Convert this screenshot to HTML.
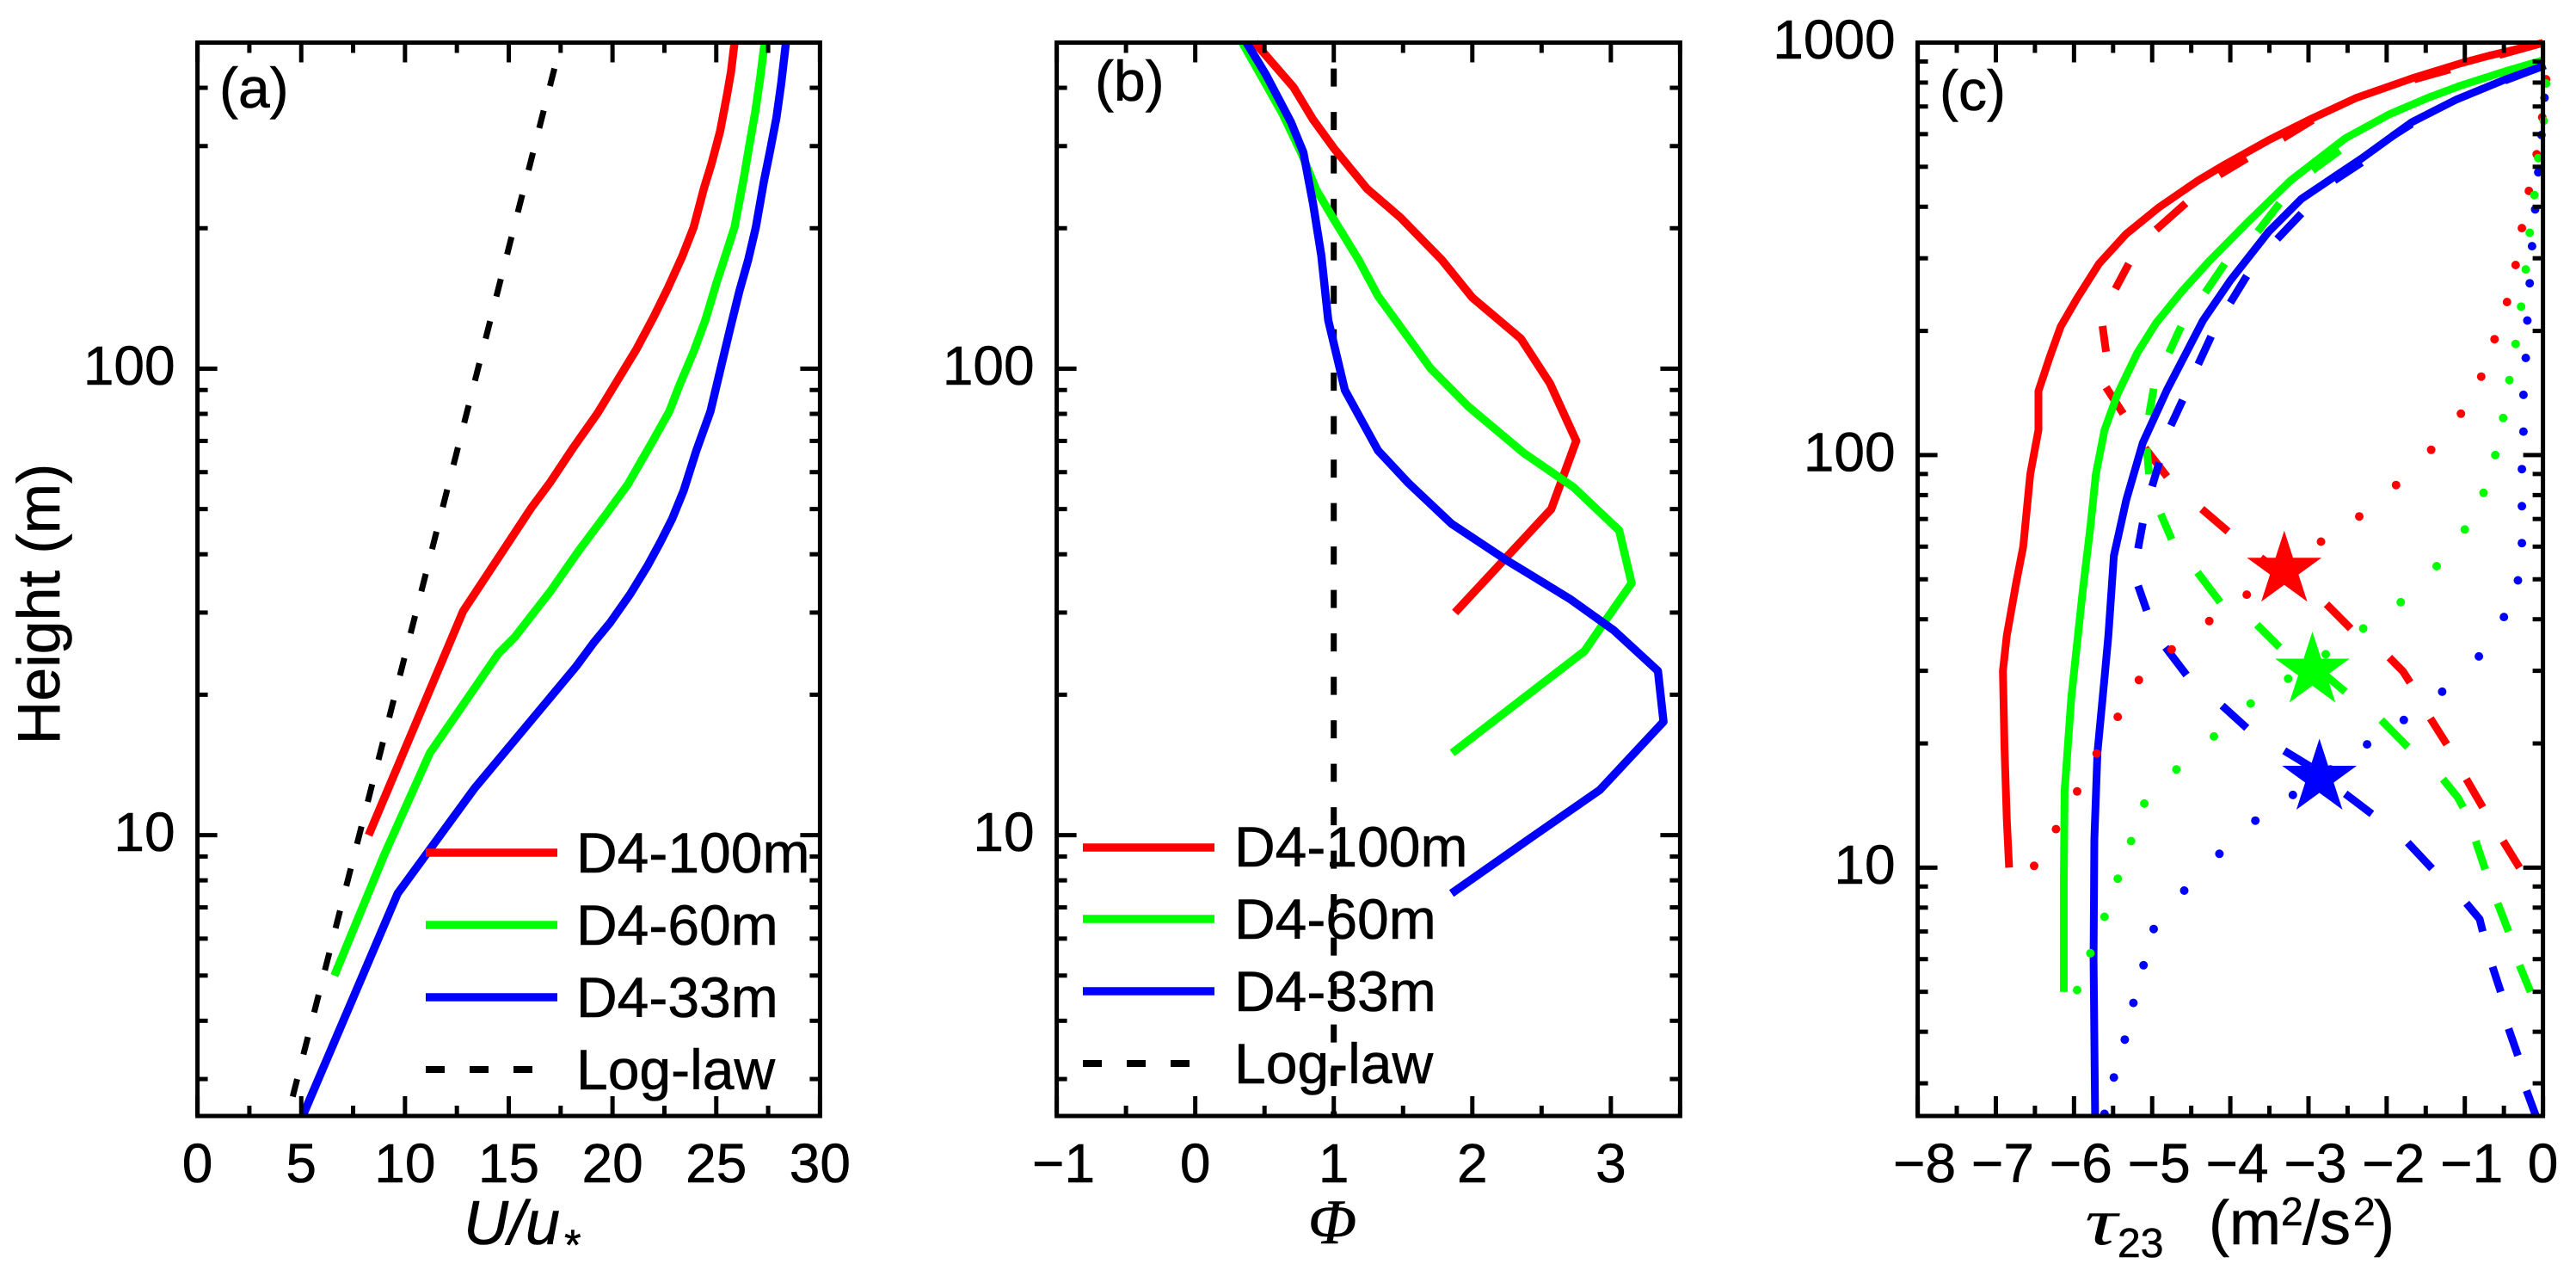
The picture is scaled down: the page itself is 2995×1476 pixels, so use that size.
<!DOCTYPE html>
<html lang="en">
<head>
<meta charset="utf-8">
<title>Height profiles</title>
<style>
html,body{margin:0;padding:0;background:#fff;}
svg{display:block;}
text{font-family:"Liberation Sans",sans-serif;fill:#000;stroke:#000;stroke-width:0.6px;}
.lg{font-size:66px;}
.pl{font-size:66px;}
</style>
</head>
<body>
<svg id="fig" xmlns="http://www.w3.org/2000/svg" width="2995" height="1476" viewBox="0 0 2995 1476">
<rect width="2995" height="1476" fill="#fff"/>
<g id="marks"></g>
<g id="frames"></g>

<text transform="translate(69,702) rotate(-90)" text-anchor="middle" font-size="70">Height (m)</text>

<text class="pl" x="255" y="125">(a)</text>
<text class="pl" x="1273" y="117">(b)</text>
<text class="pl" x="2255" y="128">(c)</text>

<g>
<text x="539" y="1446" font-size="72" font-style="italic">U/u</text>
<text x="654" y="1464" font-size="50" font-style="italic">*</text>
</g>
<text x="1549" y="1445" font-size="74" text-anchor="middle" font-style="italic" style="font-family:'Liberation Serif',serif">Φ</text>
<g>
<text transform="translate(2424,1446) scale(1.35,1)" font-size="78" font-style="italic" style="font-family:'Liberation Serif',serif;stroke-width:0">τ</text>
<text x="2462" y="1461" font-size="48">23</text>
<text x="2568" y="1446" font-size="72">(m</text>
<text x="2652" y="1424" font-size="46">2</text>
<text x="2677" y="1446" font-size="72">/s</text>
<text x="2736" y="1424" font-size="46">2</text>
<text x="2760" y="1446" font-size="72">)</text>
</g>

<g>
<line x1="495" x2="648" y1="991" y2="991" stroke="#f00" stroke-width="9.5"/>
<text class="lg" x="670" y="1014">D4-100m</text>
<line x1="495" x2="648" y1="1075" y2="1075" stroke="#0f0" stroke-width="9.5"/>
<text class="lg" x="670" y="1098">D4-60m</text>
<line x1="495" x2="648" y1="1159" y2="1159" stroke="#00f" stroke-width="9.5"/>
<text class="lg" x="670" y="1182">D4-33m</text>
<line x1="495" x2="619" y1="1243" y2="1243" stroke="#000" stroke-width="8" stroke-dasharray="22 29"/>
<text class="lg" x="670" y="1266">Log-law</text>
</g>

<g>
<line x1="1259" x2="1412" y1="985" y2="985" stroke="#f00" stroke-width="9.5"/>
<text class="lg" x="1435" y="1007">D4-100m</text>
<line x1="1259" x2="1412" y1="1068" y2="1068" stroke="#0f0" stroke-width="9.5"/>
<text class="lg" x="1435" y="1091">D4-60m</text>
<line x1="1259" x2="1412" y1="1152" y2="1152" stroke="#00f" stroke-width="9.5"/>
<text class="lg" x="1435" y="1175">D4-33m</text>
<line x1="1259" x2="1383" y1="1236" y2="1236" stroke="#000" stroke-width="8" stroke-dasharray="22 29"/>
<text class="lg" x="1435" y="1259">Log-law</text>
</g>
</svg>

<script>
// ---------- tick data ----------
const aXMajor = [0, 5, 10, 15, 20, 25, 30];
const aXMinor = [2.5, 7.5, 12.5, 17.5, 22.5, 27.5];
const bXMajor = [-1, 0, 1, 2, 3];
const bXMinor = [-0.5, 0.5, 1.5, 2.5, 3.5];
const cXMajor = [-8, -7, -6, -5, -4, -3, -2, -1, 0];
const cXMinor = [-7.5, -6.5, -5.5, -4.5, -3.5, -2.5, -1.5, -0.5];
const abYMajor = [10, 100];
const abYMinor = [3, 4, 5, 6, 7, 8, 9, 20, 30, 40, 50, 60, 70, 80, 90, 200, 300, 400];
const cYMajor = [10, 100, 1000];
const cYMinor = [3, 4, 5, 6, 7, 8, 9, 20, 30, 40, 50, 60, 70, 80, 90, 200, 300, 400, 500, 600, 700, 800, 900];

// ---------- panel (a): U/u* ----------
const aRedU = [8.25, 12.8, 16.1, 17.0, 18.11, 19.29, 21.15, 21.98, 22.67, 23.36, 23.91, 24.4, 24.77, 25.18, 25.5, 25.71, 25.88];
const aRedZ = [10, 30.2, 50.4, 57.1, 67.7, 80.4, 110, 129, 149, 174, 201, 243, 275, 322, 382, 433, 500];
const aGreenU = [6.6, 9.0, 11.2, 14.5, 15.3, 17.0, 18.37, 19.62, 20.74, 21.84, 22.74, 23.22, 23.92, 24.47, 25.02, 25.43, 25.88, 26.33, 26.61, 26.88, 27.12, 27.33];
const aGreenZ = [5, 9.07, 15, 24.5, 26.6, 33.3, 40.7, 48.3, 56.5, 68.7, 81, 92, 109, 127, 153, 174, 201, 257, 304, 355, 421, 500];
const aBlueU = [5.07, 9.65, 13.35, 18.25, 19.08, 19.9, 20.86, 21.69, 22.31, 22.88, 23.43, 24.05, 24.72, 25.3, 25.71, 26.12, 26.54, 26.91, 27.3, 27.58, 27.9, 28.13, 28.36];
const aBlueZ = [2.5, 7.5, 12.6, 23, 25.8, 28.6, 32.9, 37.8, 42.5, 47.7, 54.8, 66.9, 81, 104, 124, 147, 171, 201, 253, 291, 345, 409, 500];
const aLogU = [17.2, 4.35];
const aLogZ = [440, 2.5];

// ---------- panel (b): Phi ----------
const bRedPhi = [0.43, 0.71, 0.85, 1.0, 1.24, 1.48, 1.78, 2.0, 2.35, 2.56, 2.75, 2.57, 2.39, 1.875];
const bRedZ = [500, 401, 342, 297, 243, 211, 171, 142, 116, 93, 70, 50, 43.8, 30];
const bGreenPhi = [0.34, 0.49, 0.63, 0.77, 0.87, 1.0, 1.18, 1.32, 1.70, 1.97, 2.37, 2.73, 3.06, 3.15, 2.96, 2.81, 1.855];
const bGreenZ = [500, 417, 352, 288, 243, 209, 171, 143, 100, 83, 66, 55.7, 45, 34.7, 28.8, 24.8, 15];
const bBluePhi = [0.37, 0.51, 0.69, 0.78, 0.85, 0.91, 0.96, 1.08, 1.32, 1.54, 1.85, 2.25, 2.71, 3.02, 3.34, 3.38, 2.92, 2.45, 1.85];
const bBlueZ = [500, 427, 338, 291, 226, 175, 127, 90, 66.7, 56.8, 46.5, 38.8, 32, 27.5, 22.5, 17.5, 12.5, 10, 7.5];
const bLogPhi = [1, 1];
const bLogZ = [440, 2.5];

// ---------- panel (c): tau23 ----------
const cRedTau = [0, -0.667, -1.05, -1.65, -2.385, -2.947, -3.51, -4.07, -4.42, -4.91, -5.33, -5.68, -5.96, -6.17, -6.31, -6.455, -6.455, -6.56, -6.65, -6.74, -6.86, -6.91, -6.89, -6.86, -6.83];
const cRedZ = [998, 932, 891, 822, 735, 656, 580, 506, 462, 399, 344, 291, 240, 205, 173, 143, 115, 90, 60, 49, 36.5, 30, 19.7, 13.1, 10];
const cGreenTau = [0, -0.49, -1.05, -1.47, -1.96, -2.53, -3.23, -3.79, -4.28, -4.63, -4.95, -5.19, -5.44, -5.61, -5.72, -5.79, -5.89, -5.95, -6.035, -6.12, -6.13, -6.13];
const cGreenZ = [906, 851, 787, 735, 671, 586, 463, 365, 294, 248, 209, 177, 141, 115, 90, 67, 46.5, 36.5, 25.8, 15.3, 9.3, 5];
const cBlueTau = [0.03, -0.49, -1.12, -1.68, -2.32, -2.67, -3.09, -3.51, -4.0, -4.35, -4.81, -5.12, -5.33, -5.49, -5.56, -5.61, -5.70, -5.74, -5.75, -5.73];
const cBlueZ = [881, 813, 726, 641, 524, 473, 418, 348, 265, 212, 144, 107, 78, 57, 36.5, 28.8, 19, 11.7, 6, 2.5];

// dashed series: null marks the gap between dashes
const cRedDashTau = [0, -0.56, null, -1.19, -1.65, null, -2.947, -3.33, null, -3.79, -4.14, null, -4.57, -4.95, null, -5.30, -5.47, null, -5.635, -5.59, null, -5.59, -5.37, null, -5.09, -4.81, null, -4.365, -4.03, null, -3.61, -3.23, null, -2.77, -2.46, null, -1.965, -1.79, -1.70, null, -1.44, -1.23, null, -0.98, -0.77, null, -0.51, -0.30];
const cRedDashZ = [998, 933, null, 861, 814, null, 649, 586, null, 524, 478, null, 408, 352, null, 291, 253, null, 205.6, 178, null, 146, 126, null, 104, 88.7, null, 74, 65.3, null, 56.4, 49.8, null, 43.5, 38, null, 32.3, 29.9, 28.1, null, 23, 19.9, null, 16.4, 14, null, 11.6, 10];
const cGreenDashTau = [0, -0.49, null, -2.6, -2.95, null, -3.37, -3.65, null, -4.07, -4.32, null, -4.63, -4.785, null, -4.98, -5.04, null, -5.07, -5.04, null, -4.89, -4.75, null, -4.42, -4.13, null, -3.66, -3.37, null, -2.84, -2.53, null, -2.07, -1.73, null, -1.28, -1.09, -1.02, null, -0.86, -0.74, null, -0.58, -0.44, null, -0.30, -0.16];
const cGreenDashZ = [906, 845, null, 548, 490, null, 408, 348, null, 291, 248, null, 205, 177, null, 145, 125, null, 104, 90, null, 72, 62.5, null, 52, 44, null, 38.8, 34.2, null, 29.9, 26.7, null, 22.8, 19.6, null, 16.4, 14.8, 14, null, 11.6, 9.9, null, 8.2, 7, null, 5.8, 5];
const cBlueDashTau = [0.03, -0.49, null, -1.68, -1.93, null, -2.32, -2.67, null, -3.09, -3.40, null, -3.79, -4.0, null, -4.245, -4.41, null, -4.61, -4.76, null, -4.91, -5.0, null, -5.12, -5.18, null, -5.18, -5.07, null, -4.83, -4.56, null, -4.105, -3.79, null, -3.31, -2.98, null, -2.53, -2.19, null, -1.73, -1.42, null, -0.98, -0.81, -0.77, null, -0.645, -0.54, null, -0.44, -0.32, null, -0.21, -0.09];
const cBlueDashZ = [881, 809, null, 635, 593, null, 512, 463, null, 385, 334, null, 272, 234, null, 194, 166, null, 136, 118, null, 96, 84, null, 68.4, 59.4, null, 48.2, 42, null, 34.2, 29.3, null, 24.7, 21.8, null, 19.2, 17.6, null, 15.1, 13.5, null, 11.5, 9.95, null, 8.2, 7.5, 7, null, 5.75, 5, null, 4.07, 3.5, null, 2.88, 2.5];

const cRedDotTau = [0.04, -0.01, -0.08, -0.18, -0.27, -0.35, -0.46, -0.62, -0.79, -1.05, -1.43, -1.88, -2.35, -2.84, -3.31, -3.79, -4.27, -4.75, -5.17, -5.44, -5.71, -5.96, -6.23, -6.51];
const cRedDotZ = [815, 659, 536, 437, 355, 289, 235, 191, 155, 126, 103, 84.6, 71, 61.7, 53, 45.9, 39.6, 33.8, 28.5, 23.2, 18.9, 15.3, 12.4, 10.1];
const cGreenDotTau = [0.04, 0.01, -0.06, -0.11, -0.17, -0.22, -0.28, -0.35, -0.43, -0.51, -0.61, -0.76, -1.0, -1.36, -1.82, -2.30, -2.78, -3.26, -3.74, -4.21, -4.69, -5.10, -5.27, -5.44, -5.61, -5.79, -5.96];
const cGreenDotZ = [796, 646, 525, 427, 346, 282, 229, 186, 152, 123, 100, 81, 66, 53.8, 44, 38, 32.9, 28.7, 25, 20.8, 17.3, 14.3, 11.6, 9.4, 7.6, 6.2, 5.05];
const cBlueDotTau = [0.02, -0.02, -0.06, -0.10, -0.14, -0.17, -0.20, -0.22, -0.25, -0.25, -0.27, -0.27, -0.27, -0.32, -0.50, -0.82, -1.29, -1.78, -2.25, -2.72, -3.2, -3.68, -4.14, -4.59, -4.98, -5.11, -5.24, -5.35, -5.49, -5.61];
const cBlueDotZ = [735, 597, 485, 394, 321, 261, 212, 172, 140, 114, 92.5, 75.2, 61.2, 49.7, 40.5, 32.5, 26.7, 22.8, 19.9, 17.3, 15, 13, 10.8, 8.8, 7.1, 5.8, 4.7, 3.83, 3.1, 2.53];

const starTau = [-3.31, -2.95, -2.86];
const starZ = [52.7, 30, 16.5];

// ---------- drawing ----------
const NS = 'http://www.w3.org/2000/svg';
const marks = document.getElementById('marks');
const frames = document.getElementById('frames');

function axisX(min, max, left, right) {
  return v => left + (v - min) / (max - min) * (right - left);
}
function axisY(min, max, top, bottom) {
  return v => bottom - (Math.log10(v) - Math.log10(min)) / (Math.log10(max) - Math.log10(min)) * (bottom - top);
}
function svgEl(tag, parent) {
  const el = document.createElementNS(NS, tag);
  parent.appendChild(el);
  return el;
}
function drawLine(name, xs, ys, sx, sy, color, width, dash) {
  let d = '', pen = false;
  xs.forEach((x, i) => {
    if (x === null) { pen = false; return; }
    d += (pen ? 'L' : 'M') + sx(x).toFixed(1) + ' ' + sy(ys[i]).toFixed(1) + ' ';
    pen = true;
  });
  const el = svgEl('path', marks);
  
  
  el.setAttribute('d', d);
  el.setAttribute('fill', 'none');
  el.setAttribute('stroke', color);
  el.setAttribute('stroke-width', width);
  el.setAttribute('stroke-linejoin', 'round');
  if (dash) el.setAttribute('stroke-dasharray', dash);
}
function drawDots(name, xs, ys, sx, sy, color) {
  const g = svgEl('g', marks);
  
  
  xs.forEach((x, i) => {
    const c = svgEl('circle', g);
    
    
    c.setAttribute('cx', sx(x).toFixed(1));
    c.setAttribute('cy', sy(ys[i]).toFixed(1));
    c.setAttribute('r', 5);
    c.setAttribute('fill', color);
  });
}
function drawStar(name, tau, z, sx, sy, color) {
  const R = 45.6, r = R * 0.382, cx = sx(tau), cy = sy(z);
  const pts = [];
  for (let i = 0; i < 10; i++) {
    const a = -Math.PI / 2 + i * Math.PI / 5, q = i % 2 ? r : R;
    pts.push((cx + q * Math.cos(a)).toFixed(1) + ',' + (cy + q * Math.sin(a)).toFixed(1));
  }
  const el = svgEl('polygon', marks);
  
  
  el.setAttribute('points', pts.join(' '));
  el.setAttribute('fill', color);
}
function tick(x1, y1, x2, y2) {
  const el = svgEl('line', frames);
  
  
  el.setAttribute('x1', x1);
  el.setAttribute('y1', y1);
  el.setAttribute('x2', x2);
  el.setAttribute('y2', y2);
  el.setAttribute('stroke', '#000');
  el.setAttribute('stroke-width', 5);
}
function label(text, x, y, anchor) {
  const el = svgEl('text', frames);
  
  
  el.setAttribute('x', x);
  el.setAttribute('y', y);
  el.setAttribute('text-anchor', anchor);
  el.setAttribute('font-size', 64);
  el.textContent = text;
}
function drawAxes(b, sx, sy, xMaj, xMin, yMaj, yMin) {
  const f = svgEl('rect', frames);
  
  
  f.setAttribute('x', b.l);
  f.setAttribute('y', b.t);
  f.setAttribute('width', b.r - b.l);
  f.setAttribute('height', b.b - b.t);
  f.setAttribute('fill', 'none');
  f.setAttribute('stroke', '#000');
  f.setAttribute('stroke-width', 5);
  xMaj.forEach(v => {
    const x = sx(v);
    tick(x, b.b, x, b.b - 23);
    tick(x, b.t, x, b.t + 23);
    label(String(v).replace('-', '\u2212'), v < 0 ? x + 8 : x, 1374, 'middle');
  });
  xMin.forEach(v => {
    const x = sx(v);
    tick(x, b.b, x, b.b - 12);
    tick(x, b.t, x, b.t + 12);
  });
  yMaj.forEach(v => {
    const y = sy(v);
    tick(b.l, y, b.l + 23, y);
    tick(b.r, y, b.r - 23, y);
    label(String(v), b.l - 26, y + 18.5, 'end');
  });
  yMin.forEach(v => {
    const y = sy(v);
    tick(b.l, y, b.l + 12, y);
    tick(b.r, y, b.r - 12, y);
  });
}

const boxA = {l: 229.6, r: 953.4, t: 49.5, b: 1297};
const boxB = {l: 1228.6, r: 1953.4, t: 49.5, b: 1297};
const boxC = {l: 2229.6, r: 2956.6, t: 49.5, b: 1297};

const ax = axisX(0, 30, boxA.l, boxA.r), ay = axisY(2.5, 500, boxA.t, boxA.b);
const bx = axisX(-1, 3.5, boxB.l, boxB.r), by = axisY(2.5, 500, boxB.t, boxB.b);
const cx = axisX(-8, 0, boxC.l, boxC.r), cy = axisY(2.5, 1000, boxC.t, boxC.b);

const LOGDASH = '21 29.5';

drawLine('log-law-line', aLogU, aLogZ, ax, ay, '#000', 7, LOGDASH);
drawLine('d4-100m-line', aRedU, aRedZ, ax, ay, '#f00', 9.5);
drawLine('d4-60m-line', aGreenU, aGreenZ, ax, ay, '#0f0', 9.5);
drawLine('d4-33m-line', aBlueU, aBlueZ, ax, ay, '#00f', 9.5);

drawLine('log-law-line', bLogPhi, bLogZ, bx, by, '#000', 7, LOGDASH);
drawLine('d4-100m-line', bRedPhi, bRedZ, bx, by, '#f00', 9.5);
drawLine('d4-60m-line', bGreenPhi, bGreenZ, bx, by, '#0f0', 9.5);
drawLine('d4-33m-line', bBluePhi, bBlueZ, bx, by, '#00f', 9.5);

drawLine('d4-100m-dashed', cRedDashTau, cRedDashZ, cx, cy, '#f00', 9);
drawLine('d4-100m-total', cRedTau, cRedZ, cx, cy, '#f00', 9);
drawLine('d4-60m-dashed', cGreenDashTau, cGreenDashZ, cx, cy, '#0f0', 9);
drawLine('d4-60m-total', cGreenTau, cGreenZ, cx, cy, '#0f0', 9);
drawLine('d4-33m-dashed', cBlueDashTau, cBlueDashZ, cx, cy, '#00f', 9);
drawLine('d4-33m-total', cBlueTau, cBlueZ, cx, cy, '#00f', 9);
drawDots('d4-100m-dotted', cRedDotTau, cRedDotZ, cx, cy, '#f00');
drawDots('d4-60m-dotted', cGreenDotTau, cGreenDotZ, cx, cy, '#0f0');
drawDots('d4-33m-dotted', cBlueDotTau, cBlueDotZ, cx, cy, '#00f');
drawStar('star-d4-100m', starTau[0], starZ[0], cx, cy, '#f00');
drawStar('star-d4-60m', starTau[1], starZ[1], cx, cy, '#0f0');
drawStar('star-d4-33m', starTau[2], starZ[2], cx, cy, '#00f');

drawAxes(boxA, ax, ay, aXMajor, aXMinor, abYMajor, abYMinor);
drawAxes(boxB, bx, by, bXMajor, bXMinor, abYMajor, abYMinor);
drawAxes(boxC, cx, cy, cXMajor, cXMinor, cYMajor, cYMinor);
</script>
</body>
</html>
